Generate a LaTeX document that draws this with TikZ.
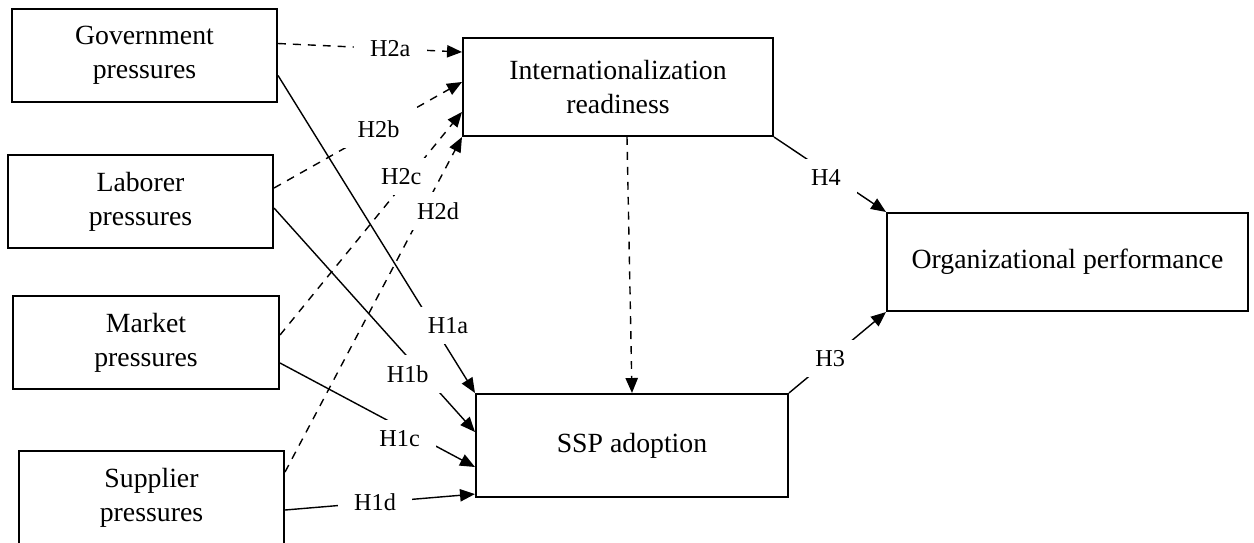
\documentclass[tikz,border=0pt]{standalone}
\usepackage{fontspec}
\setmainfont{Liberation Serif}
\usetikzlibrary{arrows.meta, positioning}

\begin{document}
\begin{tikzpicture}[
    x=0.02cm, y=-0.02cm,
    construct/.style={draw, line width=1.2pt, minimum width=#1, minimum height=1.86cm,
      align=center, inner sep=2pt, font=\fontsize{15.8}{19.5}\selectfont},
    hyp/.style={fill=white, inner xsep=9pt, inner ysep=6pt, font=\fontsize{13.8}{16}\selectfont},
    link/.style={-{Triangle[length=8.5pt, width=7pt]}, line width=0.8pt},
    dlink/.style={link, dash pattern=on 4.5pt off 4pt}
]
\clip (0,0) rectangle (1254,542);

% Pressures
\node[construct=5.3cm] (gov) at (144.5,55.5) {Government\\pressures};
\node[construct=5.3cm] (lab) at (140.5,201.5) {Laborer\\pressures};
\node[construct=5.32cm] (mkt) at (146,342.5) {Market\\pressures};
\node[construct=5.3cm] (sup) at (151.5,497.5) {Supplier\\pressures};

% Mediator and outcomes
\node[construct=6.2cm, minimum height=1.96cm] (intl) at (618,87) {Internationalization\\readiness};
\node[construct=6.24cm, minimum height=2.06cm] (ssp) at (632,445.5) {SSP adoption};
\node[construct=7.22cm, minimum height=1.96cm] (org) at (1067.5,262) {Organizational performance};

% H2 paths
\draw[dlink] ([yshift=0.24cm]gov.east) -- node[hyp, pos=0.61] {H2a} ([yshift=0.7cm]intl.west);
\draw[dlink] ([yshift=0.27cm]lab.east) -- node[hyp, pos=0.556] {H2b} ([yshift=0.1cm]intl.west);
\draw[dlink] ([yshift=0.15cm]mkt.east) -- node[hyp, pos=0.71, xshift=-0.16cm] {H2c} ([yshift=-0.5cm]intl.west);
\draw[dlink] ([yshift=0.51cm]sup.east) -- node[hyp, pos=0.78, xshift=0.3cm] {H2d} (intl.south west);

% H1 paths (bottom first, so upper arrows stay on top)
\draw[link] ([yshift=-0.25cm]sup.east) -- node[hyp, pos=0.474] {H1d} ([yshift=0.08cm]ssp.south west);
\draw[link] ([yshift=-0.41cm]mkt.east) -- node[hyp, pos=0.665, xshift=-0.2cm, yshift=-0.12cm] {H1c} ([yshift=-0.43cm]ssp.west);
\draw[link] ([yshift=-0.13cm]lab.east) -- node[hyp, pos=0.74, xshift=-0.3cm] {H1b} ([yshift=0.27cm]ssp.west);
\draw[link] ([yshift=-0.4cm]gov.east) -- node[hyp, pos=0.787, xshift=0.3cm] {H1a} (ssp.north west);

% Readiness to adoption, and performance
\draw[dlink] ([xshift=0.18cm]intl.south) -- (ssp.north);
\draw[link] (intl.south east) -- node[hyp, pos=0.535, xshift=-0.16cm] {H4} (org.north west);
\draw[link] (ssp.north east) -- node[hyp, pos=0.424] {H3} (org.south west);

\end{tikzpicture}
\end{document}
